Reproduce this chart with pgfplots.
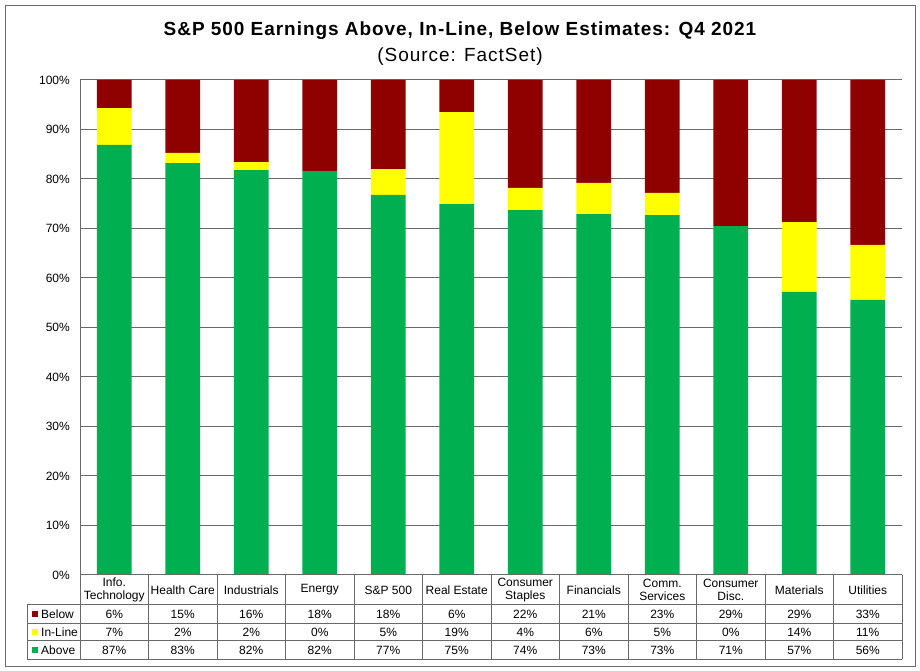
\documentclass[border=0pt]{standalone}
\usepackage{fontspec}
\setmainfont{Liberation Sans}
\newfontfamily\titlefont[LetterSpace=5]{Liberation Sans}
\usepackage{pgfplots}
\pgfplotsset{compat=1.18}
\definecolor{colAbove}{RGB}{0,176,80}
\definecolor{colInline}{RGB}{255,255,0}
\definecolor{colBelow}{RGB}{143,0,0}
\definecolor{rule}{RGB}{105,105,105}

\begin{document}
\begin{tikzpicture}[x=1pt,y=1pt]
\useasboundingbox (0,0) rectangle (920,671);
\draw[rule, line width=1pt] (5.5,4.5) rectangle (915.5,665.5);
\node[anchor=base, font=\titlefont\fontsize{19}{21}\selectfont\bfseries] at (460,635.5) {S\&P 500 Earnings Above, In-Line, Below Estimates: Q4 2021};
\node[anchor=base, font=\titlefont\fontsize{19}{21}\selectfont] at (460,609.3) {(Source: FactSet)};

\begin{axis}[
    at={(80pt,96pt)}, anchor=south west,
    scale only axis, width=822pt, height=495pt,
    ybar stacked, bar width=0.51,
    xmin=-0.5, xmax=11.5, ymin=0, ymax=100,
    xtick=\empty,
    ytick={0,10,...,100},
    yticklabel={\pgfmathprintnumber{\tick}\%},
    /pgf/number format/assume math mode=true,
    yticklabel style={font=\fontsize{12}{14}\selectfont, inner sep=0pt, xshift=-10pt},
    major tick length=0pt,
    axis lines*=left,
    ymajorgrids, grid style={rule, line width=1pt},
    axis line style={rule, line width=1pt},
  ]
% Above
\addplot[fill=colAbove, draw=none] coordinates {
(0,86.9) (1,83.2) (2,81.8) (3,81.6) (4,76.8) (5,74.9)
(6,73.7) (7,72.9) (8,72.7) (9,70.5) (10,57.2) (11,55.6)
};
% In-Line
\addplot[fill=colInline, draw=none] coordinates {
(0,7.4) (1,2.1) (2,1.6) (3,0) (4,5.2) (5,18.6)
(6,4.5) (7,6.3) (8,4.5) (9,0) (10,14.1) (11,11.1)
};
% Below
\addplot[fill=colBelow, draw=none] coordinates {
(0,5.7) (1,14.7) (2,16.6) (3,18.4) (4,18.0) (5,6.5)
(6,21.8) (7,20.8) (8,22.8) (9,29.5) (10,28.7) (11,33.3)
};
\end{axis}

% data table under the plot
\foreach \k in {0,...,12}
  \draw[rule, line width=1pt] ({80+68.5*\k},96) -- ({80+68.5*\k},11.7);
\foreach \yy in {96,66,47.7,30,11.7}
  \draw[rule, line width=1pt] (80,\yy) -- (902,\yy);
\foreach \yy in {66,47.7,30,11.7}
  \draw[rule, line width=1pt] (27.3,\yy) -- (80,\yy);
\draw[rule, line width=1pt] (27.3,66) -- (27.3,11.7);

\foreach \i/\t in {0/{Info.\\Technology}, 1/{Health Care}, 2/{Industrials},
    3/{Energy}, 4/{S\&P 500}, 5/{Real Estate}, 6/{Consumer\\Staples},
    7/{Financials}, 8/{Comm.\\Services}, 9/{Consumer\\Disc.}, 10/{Materials},
    11/{Utilities}}
  \node[align=center, font=\fontsize{12}{13.5}\selectfont, inner sep=0pt]
    at ({80+68.5*(\i+0.5)},81) {\t};

\foreach \i/\b/\l/\a in {0/6/7/87, 1/15/2/83, 2/16/2/82, 3/18/0/82, 4/18/5/77,
    5/6/19/75, 6/22/4/74, 7/21/6/73, 8/23/5/73, 9/29/0/71, 10/29/14/57, 11/33/11/56}
{
  \node[font=\fontsize{12}{14}\selectfont] at ({80+68.5*(\i+0.5)},56.8) {\b\%};
  \node[font=\fontsize{12}{14}\selectfont] at ({80+68.5*(\i+0.5)},38.8) {\l\%};
  \node[font=\fontsize{12}{14}\selectfont] at ({80+68.5*(\i+0.5)},20.8) {\a\%};
}

\fill[colBelow] (32,54) rectangle (38,60);
\fill[colInline] (32,36) rectangle (38,42);
\fill[colAbove] (32,18) rectangle (38,24);
\node[anchor=west, inner sep=0pt, font=\fontsize{12}{14}\selectfont] at (41,56.8) {Below};
\node[anchor=west, inner sep=0pt, font=\fontsize{12}{14}\selectfont] at (41,38.8) {In-Line};
\node[anchor=west, inner sep=0pt, font=\fontsize{12}{14}\selectfont] at (41,20.8) {Above};
\end{tikzpicture}
\end{document}
